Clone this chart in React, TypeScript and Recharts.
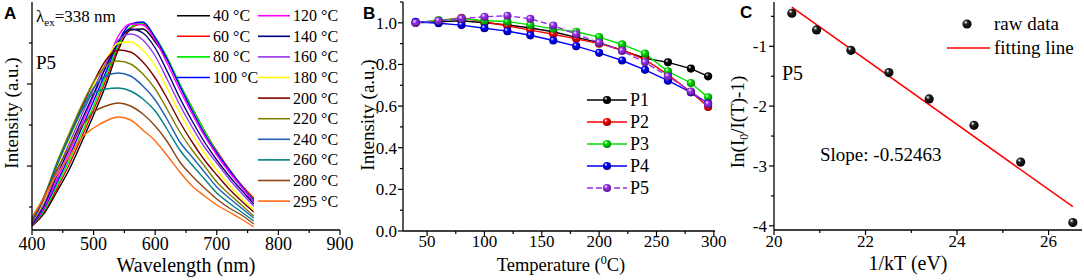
import React from 'react';
import { LineChart, Line, XAxis, YAxis, ComposedChart, Scatter } from 'recharts';

const SERIF = 'Liberation Serif, Times New Roman, DejaVu Serif, serif';
const SANS = 'Liberation Sans, Arial, sans-serif';

// ---- panel A: emission spectra of P5 at different temperatures
const WAVELENGTHS = [400, 420, 440, 460, 480, 500, 520, 540, 560, 580, 600, 620, 640, 660, 680, 700, 720, 740, 760];
const SPECTRA_TEMPS = ['40', '60', '80', '100', '120', '140', '160', '180', '200', '220', '240', '260', '280', '295'];
const SPECTRA_COLORS = ['#000000', '#ff0000', '#00ee00', '#0000ff', '#ff00ff', '#000080', '#9933ee', '#ffff00', '#800000', '#808000', '#1f5fb0', '#008080', '#8b4513', '#ff6a10'];
const I_40 = [4, 17, 38, 60, 87, 115, 145, 180, 200, 201, 188, 170, 145, 122, 99, 78, 60, 44, 31];
const I_60 = [4, 19, 41, 65, 92, 120, 150, 183, 202, 206, 192, 171, 145, 122, 99, 79, 61, 45, 32];
const I_80 = [5, 20, 44, 69, 96, 124, 154, 185, 203, 207, 193, 172, 146, 122, 99, 78, 60, 44, 30];
const I_100 = [5, 22, 47, 73, 101, 129, 158, 188, 206, 208, 192, 170, 144, 119, 96, 77, 60, 44, 29];
const I_120 = [6, 23, 50, 77, 105, 134, 164, 194, 206, 205, 190, 166, 140, 116, 94, 75, 58, 43, 28];
const I_140 = [6, 25, 54, 81, 109, 136, 163, 188, 201, 197, 182, 158, 132, 109, 88, 70, 54, 40, 26];
const I_160 = [7, 28, 58, 86, 114, 141, 167, 190, 196, 190, 174, 150, 125, 103, 83, 67, 51, 37, 24];
const I_180 = [8, 30, 62, 90, 118, 145, 170, 187, 188, 180, 164, 141, 117, 96, 77, 60, 45, 32, 20];
const I_200 = [8, 32, 65, 94, 122, 148, 170, 180, 178, 168, 152, 131, 108, 88, 70, 55, 41, 29, 18];
const I_220 = [9, 34, 67, 96, 124, 148, 164, 169, 166, 156, 141, 120, 98, 80, 64, 48, 36, 25, 14];
const I_240 = [9, 33, 65, 93, 120, 142, 154, 157, 154, 144, 130, 110, 88, 73, 58, 43, 32, 22, 12];
const I_260 = [10, 34, 64, 92, 118, 137, 141, 142, 139, 131, 119, 100, 80, 65, 51, 37, 27, 18, 9];
const I_280 = [11, 34, 60, 82, 103, 118, 124, 127, 124, 116, 104, 88, 68, 54, 42, 31, 22, 15, 6];
const I_295 = [13, 33, 55, 73, 92, 102, 109, 113, 110, 100, 89, 74, 58, 44, 34, 25, 18, 11, 3];
const SPECTRA = [I_40, I_60, I_80, I_100, I_120, I_140, I_160, I_180, I_200, I_220, I_240, I_260, I_280, I_295];
const A_X_TICKS = [400, 450, 500, 550, 600, 650, 700, 750, 800, 850, 900];
const A_X_MAJORS = [400, 500, 600, 700, 800, 900];
const A_Y_TICKS = [23, 64, 105, 146, 187];
const A_Y_MAJORS = [64, 146];

// ---- panel B: normalised integrated intensity vs temperature
const TEMPS = [40, 60, 80, 100, 120, 140, 160, 180, 200, 220, 240, 260, 280, 295];
const P1 = [1.0, 1.005, 1.01, 1.0, 0.99, 0.975, 0.957, 0.93, 0.905, 0.868, 0.83, 0.81, 0.78, 0.743];
const P2 = [1.0, 1.01, 1.024, 1.005, 0.985, 0.965, 0.945, 0.923, 0.9, 0.87, 0.823, 0.751, 0.668, 0.596];
const P3 = [1.0, 1.013, 1.02, 1.01, 1.006, 0.99, 0.971, 0.957, 0.931, 0.896, 0.852, 0.767, 0.711, 0.642];
const P4 = [1.005, 0.998, 0.989, 0.974, 0.96, 0.94, 0.915, 0.888, 0.856, 0.819, 0.774, 0.722, 0.666, 0.613];
const P5 = [1.0, 1.01, 1.02, 1.029, 1.034, 1.019, 0.987, 0.945, 0.905, 0.865, 0.81, 0.743, 0.67, 0.61];
const B_NAMES = ['P1', 'P2', 'P3', 'P4', 'P5'];
const B_COLORS = ['#000000', '#ff0000', '#00e000', '#0000ff', '#9933ee'];
const B_SERIES = [P1, P2, P3, P4, P5];
const B_X_TICKS = [50, 75, 100, 125, 150, 175, 200, 225, 250, 275, 300];
const B_X_MAJORS = [50, 100, 150, 200, 250, 300];
const B_Y_TICKS = [0, 0.1, 0.2, 0.3, 0.4, 0.5, 0.6, 0.7, 0.8, 0.9, 1.0, 1.1];
const B_Y_MAJORS = [0, 0.2, 0.4, 0.6, 0.8, 1.0];

// ---- panel C: ln(I0/I(T)-1) vs 1/kT
const INV_KT = [20.39, 20.93, 21.68, 22.51, 23.39, 24.37, 25.39, 26.53];
const LN_RATIO = [-0.448, -0.727, -1.067, -1.44, -1.88, -2.32, -2.935, -3.945];
const FIT_X = [20.39, 26.53];
const FIT_Y = [-0.347, -3.68];
const C_X_TICKS = [20, 21, 22, 23, 24, 25, 26];
const C_X_MAJORS = [20, 22, 24, 26];
const C_Y_TICKS = [-4, -3.5, -3, -2.5, -2, -1.5, -1, -0.5];
const C_Y_MAJORS = [-4, -3, -2, -1];

const spectraRows = WAVELENGTHS.map((w, i) => {
  const row: Record<string, number> = { w };
  SPECTRA.forEach((s, k) => (row[`s${k}`] = s[i]));
  return row;
});
const bRows = TEMPS.map((t, i) => {
  const row: Record<string, number> = { t };
  B_SERIES.forEach((s, k) => (row[B_NAMES[k]] = s[i]));
  return row;
});
const rawRows = INV_KT.map((x, i) => ({ x, y: LN_RATIO[i] }));
const fitRows = FIT_X.map((x, i) => ({ x, y: FIT_Y[i] }));

type TickOpts = { side: 'bottom' | 'left'; majors: number[]; fmt: (v: number) => string; fontSize: number; offset: number };

const makeTick = (o: TickOpts) => (p: any) => {
  const { x, y, payload } = p;
  const v = payload.value as number;
  const major = o.majors.some((m) => Math.abs(m - v) < 1e-6);
  const len = major ? 5 : 3;
  if (o.side === 'bottom') {
    return (
      <g>
        <line x1={x} y1={y} x2={x} y2={y + len} stroke="#000" strokeWidth={1.2} />
        {major ? (
          <text x={x} y={y + o.offset} textAnchor="middle" fill="#000" style={{ fontFamily: SERIF, fontSize: o.fontSize }}>
            {o.fmt(v)}
          </text>
        ) : null}
      </g>
    );
  }
  return (
    <g>
      <line x1={x} y1={y} x2={x - len} y2={y} stroke="#000" strokeWidth={1.2} />
      {major ? (
        <text x={x - o.offset} y={y + o.fontSize * 0.34} textAnchor="end" fill="#000" style={{ fontFamily: SERIF, fontSize: o.fontSize }}>
          {o.fmt(v)}
        </text>
      ) : null}
    </g>
  );
};

const frame = { stroke: '#000', strokeWidth: 1.3 };

const Ball = ({ cx, cy, id, r = 4 }: { cx: number; cy: number; id: string; r?: number }) => (
  <circle cx={cx} cy={cy} r={r} fill={`url(#${id})`} stroke="none" />
);

const BallGradient = ({ id, color, dark }: { id: string; color: string; dark: string }) => (
  <radialGradient id={id} cx="0.4" cy="0.38" r="0.62" fx="0.35" fy="0.3">
    <stop offset="0%" stopColor="#ffffff" />
    <stop offset="35%" stopColor={color} />
    <stop offset="100%" stopColor={dark} />
  </radialGradient>
);

const B_DARK = ['#000000', '#900000', '#008000', '#000090', '#5a1a90'];

function PanelA() {
  return (
    <LineChart width={362} height={280} data={spectraRows} margin={{ top: 2, right: 22, bottom: 0, left: 0 }}>
      <XAxis dataKey="w" type="number" domain={[400, 900]} ticks={A_X_TICKS} interval={0} height={50}
        tickSize={0} tickMargin={0} tickLine={false} axisLine={frame}
        tick={makeTick({ side: 'bottom', majors: A_X_MAJORS, fmt: (v) => `${v}`, fontSize: 18, offset: 20 })} />
      <XAxis xAxisId="top" orientation="top" type="number" domain={[400, 900]} height={0} tick={false} tickLine={false} axisLine={frame} />
      <YAxis type="number" domain={[0, 228]} ticks={A_Y_TICKS} interval={0} width={32}
        tickSize={0} tickMargin={0} tickLine={false} axisLine={frame}
        tick={makeTick({ side: 'left', majors: A_Y_MAJORS, fmt: () => '', fontSize: 17, offset: 8 })} />
      <YAxis yAxisId="right" orientation="right" type="number" domain={[0, 228]} width={0} tick={false} tickLine={false} axisLine={frame} />
      {SPECTRA.map((_, k) => (
        <Line key={k} type="monotone" dataKey={`s${k}`} stroke={SPECTRA_COLORS[k]} strokeWidth={1.4}
          dot={false} isAnimationActive={false} />
      ))}
    </LineChart>
  );
}

function PanelB() {
  return (
    <LineChart width={392} height={280} data={bRows} margin={{ top: 2, right: 25, bottom: 0, left: 0 }}>
      <defs>
        {B_NAMES.map((n, k) => (
          <BallGradient key={n} id={`ballB${k}`} color={B_COLORS[k]} dark={B_DARK[k]} />
        ))}
      </defs>
      <XAxis dataKey="t" type="number" domain={[29, 301]} ticks={B_X_TICKS} interval={0} height={49}
        tickSize={0} tickMargin={0} tickLine={false} axisLine={frame}
        tick={makeTick({ side: 'bottom', majors: B_X_MAJORS, fmt: (v) => `${v}`, fontSize: 17, offset: 16 })} />
      <XAxis xAxisId="top" orientation="top" type="number" domain={[29, 301]} height={0} tick={false} tickLine={false} axisLine={frame} />
      <YAxis type="number" domain={[0, 1.1]} ticks={B_Y_TICKS} interval={0} width={55}
        tickSize={0} tickMargin={0} tickLine={false} axisLine={frame}
        tick={makeTick({ side: 'left', majors: B_Y_MAJORS, fmt: (v) => v.toFixed(1), fontSize: 17, offset: 6 })} />
      <YAxis yAxisId="right" orientation="right" type="number" domain={[0, 1.1]} width={0} tick={false} tickLine={false} axisLine={frame} />
      {B_NAMES.map((n, k) => (
        <Line key={n} type="linear" dataKey={n} stroke={B_COLORS[k]} strokeWidth={1.4}
          strokeDasharray={n === 'P5' ? '6 3' : undefined}
          dot={(p: any) => <Ball key={`${n}-${p.index}`} cx={p.cx} cy={p.cy} id={`ballB${k}`} r={4.1} />}
          activeDot={false} isAnimationActive={false} />
      ))}
    </LineChart>
  );
}

function PanelC() {
  return (
    <ComposedChart width={364} height={280} margin={{ top: 2, right: 2, bottom: 0, left: 0 }}>
      <defs>
        <BallGradient id="ballC" color="#222222" dark="#000000" />
      </defs>
      <XAxis dataKey="x" type="number" domain={[20, 26.73]} ticks={C_X_TICKS} interval={0} height={50}
        tickSize={0} tickMargin={0} tickLine={false} axisLine={frame} allowDataOverflow
        tick={makeTick({ side: 'bottom', majors: C_X_MAJORS, fmt: (v) => `${v}`, fontSize: 17, offset: 17 })} />
      <XAxis xAxisId="top" orientation="top" type="number" domain={[20, 26.73]} height={0} tick={false} tickLine={false} axisLine={frame} allowDataOverflow />
      <YAxis dataKey="y" type="number" domain={[-4.07, -0.26]} ticks={C_Y_TICKS} interval={0} width={54}
        tickSize={0} tickMargin={0} tickLine={false} axisLine={frame} allowDataOverflow
        tick={makeTick({ side: 'left', majors: C_Y_MAJORS, fmt: (v) => `${v}`, fontSize: 17, offset: 7 })} />
      <YAxis yAxisId="right" orientation="right" type="number" domain={[-4.07, -0.26]} width={0} tick={false} tickLine={false} axisLine={frame} allowDataOverflow />
      <Line data={fitRows} dataKey="y" type="linear" stroke="#ff0000" strokeWidth={1.5} dot={false} activeDot={false} isAnimationActive={false} />
      <Scatter data={rawRows} dataKey="y" isAnimationActive={false}
        shape={(p: any) => <Ball cx={p.cx} cy={p.cy} id="ballC" r={4.6} />} />
    </ComposedChart>
  );
}

function Overlay() {
  const rowA = (i: number) => 15.7 + i * 20.6;
  const rowB = (i: number) => 100 + i * 22;
  const serif = (size: number) => ({ fontFamily: SERIF, fontSize: size });
  return (
    <svg width={1084} height={280} style={{ position: 'absolute', left: 0, top: 0, pointerEvents: 'none' }}>
      <defs>
        {B_NAMES.map((n, k) => (
          <BallGradient key={n} id={`legB${k}`} color={B_COLORS[k]} dark={B_DARK[k]} />
        ))}
        <BallGradient id="legC" color="#222222" dark="#000000" />
      </defs>
      <g fill="#000" style={{ fontFamily: SANS, fontSize: 17, fontWeight: 'bold' }}>
        <text x={4} y={19}>A</text>
        <text x={363} y={19}>B</text>
        <text x={740} y={18}>C</text>
      </g>
      <g fill="#000">
        {/* panel A texts */}
        <text x={36} y={22} style={serif(17)}>
          λ<tspan style={{ fontSize: 11 }} dy={4}>ex</tspan>
          <tspan dy={-4}>=338 nm</tspan>
        </text>
        <text x={36} y={68.5} style={serif(19)}>P5</text>
        <text x={186} y={271.5} textAnchor="middle" style={serif(20)}>Wavelength (nm)</text>
        <text transform="translate(17.5,113) rotate(-90)" textAnchor="middle" style={serif(19)}>Intensity (a.u.)</text>
        {SPECTRA_TEMPS.map((t, k) => {
          const col = k < 4 ? 0 : 1;
          const y = rowA(col === 0 ? k : k - 4);
          const x1 = col === 0 ? 177 : 258;
          const x2 = col === 0 ? 210 : 290;
          return (
            <g key={t}>
              <line x1={x1} y1={y} x2={x2} y2={y} stroke={SPECTRA_COLORS[k]} strokeWidth={1.6} />
              <text x={x2 + 3} y={y + 5.5} style={serif(16)}>{`${t} °C`}</text>
            </g>
          );
        })}

        {/* panel B texts */}
        <text x={561} y={271} textAnchor="middle" style={serif(18.5)}>
          Temperature (<tspan style={{ fontSize: 12 }} dy={-7}>0</tspan><tspan dy={7}>C)</tspan>
        </text>
        <text transform="translate(374,115) rotate(-90)" textAnchor="middle" style={serif(19)}>Intensity (a.u.)</text>
        {B_NAMES.map((n, k) => (
          <g key={n}>
            <line x1={587} y1={rowB(k)} x2={627} y2={rowB(k)} stroke={B_COLORS[k]} strokeWidth={1.4}
              strokeDasharray={n === 'P5' ? '6 3' : undefined} />
            <Ball cx={607} cy={rowB(k)} id={`legB${k}`} r={4.1} />
            <text x={630} y={rowB(k) + 6} style={serif(18)}>{n}</text>
          </g>
        ))}

        {/* panel C texts */}
        <text x={908} y={270} textAnchor="middle" style={serif(20)}>1/kT (eV)</text>
        <text transform="translate(744,122) rotate(-90)" textAnchor="middle" style={serif(19)}>
          In(I<tspan style={{ fontSize: 12 }} dy={4}>0</tspan><tspan dy={-4}>/I(T)-1)</tspan>
        </text>
        <Ball cx={967} cy={24} id="legC" r={4.6} />
        <text x={994} y={30} style={serif(19)}>raw data</text>
        <line x1={947} y1={48} x2={990} y2={48} stroke="#ff0000" strokeWidth={1.5} />
        <text x={994} y={54} style={serif(19)}>fitting line</text>
        <text x={782} y={80} style={serif(20)}>P5</text>
        <text x={820} y={161} style={serif(19)}>Slope: -0.52463</text>
      </g>
    </svg>
  );
}

export default function App() {
  return (
    <div style={{ position: 'absolute', left: 0, top: 0, width: 1084, height: 280, background: '#fff', overflow: 'hidden', fontFamily: SERIF }}>
      <div style={{ position: 'absolute', left: 0, top: 0 }}><PanelA /></div>
      <div style={{ position: 'absolute', left: 348, top: 0 }}><PanelB /></div>
      <div style={{ position: 'absolute', left: 720, top: 0 }}><PanelC /></div>
      <Overlay />
    </div>
  );
}
